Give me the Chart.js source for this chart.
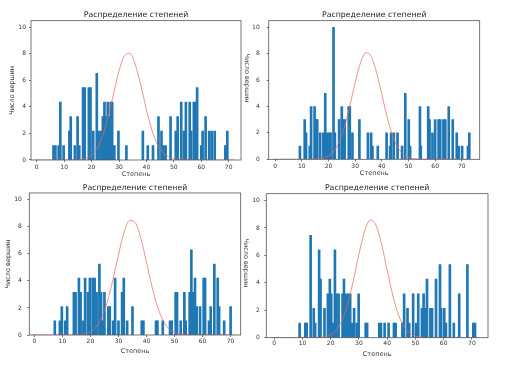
<!DOCTYPE html>
<html>
<head>
<meta charset="utf-8">
<script src="https://cdn.jsdelivr.net/npm/chart.js@4/dist/chart.umd.min.js"></script>
<style>
  body { margin: 0; background: #fff; }
  #wrap { position: relative; width: 507px; height: 366px; overflow: hidden; background: #fff; }
  #wrap canvas { position: absolute; }
  .side { position: absolute; font: 6.5px "DejaVu Sans", sans-serif; color: #444;
          white-space: nowrap; transform: translate(-50%, -50%) rotate(90deg); }
</style>
</head>
<body>
<div id="wrap">
  <canvas id="c1" width="253" height="183" style="left:0;top:0"></canvas>
  <canvas id="c2" width="254" height="183" style="left:253px;top:0"></canvas>
  <canvas id="c3" width="253" height="183" style="left:0;top:183px"></canvas>
  <canvas id="c4" width="254" height="183" style="left:253px;top:183px"></canvas>
  <div class="side" style="left:247px;top:78px">Число вершин</div>
  <div class="side" style="left:245.5px;top:263px">Число вершин</div>
</div>
<script>
const titleText = 'Распределение степеней';
const xLabel = 'Степень';
const yLabel = 'Число вершин';
const xTicks = [0, 10, 20, 30, 40, 50, 60, 70];
const yTicks = [0, 2, 4, 6, 8, 10];

// x of the red curve, shared by all panels
const curveX = [-1, 0, 2, 4, 6, 8, 10, 12, 14, 16, 18, 20, 22, 24, 26, 28, 30, 32, 34, 36,
  38, 40, 42, 44, 46, 48, 50, 52, 54, 56, 58, 60, 62, 64, 66, 68, 70, 72];

// panel 1 (top left)
const deg1 = [6.1, 6.8, 8.0, 8.6, 9.8, 11.9, 12.4, 13.9, 14.9, 15.5, 16.9, 17.5, 19.0, 19.6, 20.6,
  21.9, 22.5, 23.3, 24.1, 24.7, 25.3, 25.9, 26.5, 27.0, 27.5, 28.3, 29.8, 32.7, 38.7, 40.5,
  42.4, 44.4, 45.5, 46.2, 47.0, 48.8, 50.7, 51.4, 52.7, 53.7, 54.4, 55.8, 56.3, 57.3, 57.9,
  58.5, 60.0, 60.5, 61.6, 62.9, 63.8, 64.9, 68.8, 69.5];
const counts1 = [1.09, 1.09, 1.09, 4.36, 1.09, 2.18, 3.27, 1.09, 3.27, 1.09, 5.45, 5.45, 5.45, 5.45, 2.18,
  6.54, 2.18, 2.18, 3.27, 4.36, 3.27, 4.36, 3.27, 4.36, 4.36, 1.09, 2.18, 1.09, 2.18, 1.09,
  1.09, 3.27, 2.18, 1.09, 1.09, 3.27, 2.18, 3.27, 4.36, 2.18, 4.36, 4.36, 2.18, 4.36, 4.36,
  5.45, 1.09, 2.18, 3.27, 2.18, 2.18, 2.18, 1.09, 2.18];
const curve1 = [0, 0, 0, 0, 0, 0, 0, 0, 0, 0.04, 0.13, 0.36, 0.88, 1.82, 3.22, 4.98, 6.7, 7.86, 8.03, 7.15,
  5.58, 3.8, 2.26, 1.18, 0.56, 0.26, 0.12, 0.05, 0.02, 0, 0, 0, 0, 0, 0, 0, 0, 0];

// panel 2 (top right)
const deg2 = [9.3, 11.1, 11.6, 13.0, 13.5, 14.8, 15.3, 15.8, 16.9, 18.1, 18.8, 19.4, 20.3, 20.8, 21.9,
  22.4, 24.0, 25.0, 25.5, 26.1, 27.6, 28.0, 29.0, 31.6, 34.8, 36.0, 36.5, 38.5, 41.8, 43.1,
  43.5, 44.5, 45.9, 47.6, 48.8, 50.1, 50.6, 54.3, 54.6, 57.4, 57.9, 59.0, 60.0, 61.3, 61.9,
  63.1, 63.8, 65.1, 66.6, 68.1, 68.8, 70.1, 72.3, 72.8];
const counts2 = [1, 3, 2, 1, 4, 4, 3, 3, 2, 2, 5, 2, 2, 2, 10,
  2, 3, 4, 3, 3, 4, 4, 2, 3, 2, 2, 1, 1, 2, 1,
  2, 2, 2, 1, 5, 3, 1, 4, 1, 4, 3, 2, 3, 3, 3,
  3, 3, 4, 3, 2, 1, 1, 1, 2];
const curve2 = [0, 0, 0, 0, 0, 0, 0, 0, 0, 0.03, 0.09, 0.25, 0.61, 1.31, 2.46, 4.03, 5.8, 7.3, 8.07, 7.8,
  6.6, 4.91, 3.2, 1.82, 0.91, 0.4, 0.15, 0.05, 0.02, 0, 0, 0, 0, 0, 0, 0, 0, 0];

// panel 3 (bottom left)
const deg3 = [7.3, 9.1, 9.8, 11.0, 11.7, 14.1, 14.7, 15.9, 16.5, 17.5, 18.1, 19.1, 19.8, 20.8, 21.5,
  22.2, 23.2, 23.8, 24.3, 25.0, 26.4, 26.9, 28.1, 28.8, 30.0, 31.3, 31.9, 33.1, 35.0, 38.3,
  38.9, 43.4, 43.9, 45.8, 48.4, 49.0, 50.4, 50.9, 52.2, 53.5, 54.0, 55.4, 56.0, 56.5, 57.3,
  57.9, 59.1, 60.4, 60.9, 62.3, 62.9, 64.2, 65.4, 65.9, 67.7, 70.0];
const counts3 = [1.05, 1.05, 2.1, 1.05, 2.1, 3.15, 3.15, 4.2, 3.15, 1.05, 4.2, 3.15, 4.2, 4.2, 4.2,
  3.15, 5.25, 3.15, 1.05, 3.15, 2.1, 2.1, 1.05, 4.2, 1.05, 3.15, 4.2, 1.05, 2.1, 1.05,
  1.05, 1.05, 1.05, 1.05, 1.05, 1.05, 3.15, 3.15, 1.05, 3.15, 1.05, 3.15, 6.3, 3.15, 4.2,
  2.1, 2.1, 4.2, 4.2, 1.05, 2.1, 5.25, 4.2, 2.1, 1.05, 2.1];
const curve3 = [0, 0, 0, 0, 0, 0, 0, 0, 0, 0.03, 0.085, 0.24, 0.59, 1.29, 2.45, 4.07, 5.93, 7.58, 8.48, 8.31,
  7.14, 5.37, 3.54, 2.05, 1.04, 0.46, 0.18, 0.06, 0.02, 0, 0, 0, 0, 0, 0, 0, 0, 0];

// panel 4 (bottom right)
const deg4 = [9.0, 11.0, 11.5, 12.9, 14.0, 14.5, 15.9, 16.4, 17.8, 19.0, 19.7, 20.2, 20.9, 21.5, 22.0,
  22.8, 24.2, 24.7, 25.3, 26.2, 26.9, 27.6, 28.3, 29.2, 29.9, 32.4, 32.9, 37.2, 37.8, 39.1,
  40.5, 42.4, 43.0, 45.4, 46.0, 47.2, 47.8, 49.2, 50.3, 51.0, 52.3, 52.9, 53.6, 54.1, 55.3,
  55.9, 57.3, 58.7, 59.1, 60.2, 60.8, 62.2, 63.6, 65.5, 68.4, 70.5, 71.1];
const counts4 = [1.07, 1.07, 1.07, 7.47, 2.14, 1.07, 6.4, 4.27, 2.14, 3.2, 4.27, 3.2, 1.07, 6.4, 3.2,
  3.2, 3.2, 4.27, 3.2, 3.2, 3.2, 1.07, 2.14, 1.07, 3.2, 1.07, 1.07, 1.07, 1.07, 1.07,
  1.07, 1.07, 1.07, 1.07, 3.2, 2.14, 1.07, 3.2, 1.07, 3.2, 2.14, 3.2, 2.14, 4.27, 2.14,
  2.14, 4.27, 5.33, 2.14, 2.14, 1.07, 5.33, 1.07, 3.2, 5.33, 1.07, 1.07];
const curve4 = [0, 0, 0, 0, 0, 0, 0, 0, 0, 0.02, 0.07, 0.21, 0.56, 1.26, 2.45, 4.15, 6.09, 7.76, 8.58, 8.22,
  6.83, 4.92, 3.08, 1.67, 0.79, 0.32, 0.11, 0.04, 0.01, 0, 0, 0, 0, 0, 0, 0, 0, 0];

const FONT = '"DejaVu Sans", sans-serif';

// draws the four-sided matplotlib frame round the plot area
const framePlugin = {
  id: 'frame',
  afterDraw(chart) {
    const a = chart.chartArea, ctx = chart.ctx;
    ctx.save();
    ctx.strokeStyle = '#555';
    ctx.lineWidth = 0.8;
    ctx.strokeRect(a.left, a.top, a.right - a.left, a.bottom - a.top);
    ctx.restore();
  }
};

function makePanel(id, degs, counts, curve, p) {
  const ctx = document.getElementById(id).getContext('2d');
  new Chart(ctx, {
    type: 'bar',
    data: {
      datasets: [
        {
          type: 'line',
          data: curveX.map((x, i) => ({ x: x, y: curve[i] })),
          borderColor: 'rgba(240, 100, 100, 0.8)',
          borderWidth: 0.9,
          pointRadius: 0,
          fill: false,
          cubicInterpolationMode: 'monotone'
        },
        {
          type: 'bar',
          data: degs.map((x, i) => ({ x: x, y: counts[i] })),
          backgroundColor: '#1f77b4',
          borderWidth: 0,
          barThickness: 2
        }
      ]
    },
    options: {
      responsive: false,
      animation: false,
      devicePixelRatio: 1,
      layout: { padding: p.pad },
      plugins: {
        legend: { display: false },
        tooltip: { enabled: false },
        title: {
          display: true,
          fullSize: false,
          text: titleText,
          color: '#222',
          font: { family: FONT, size: 7.8, lineHeight: 1.15, weight: 'normal' },
          padding: p.titlePad
        }
      },
      scales: {
        x: {
          type: 'linear',
          min: p.xMin,
          max: p.xMax,
          bounds: 'data',
          offset: false,
          afterBuildTicks: s => { s.ticks = xTicks.map(v => ({ value: v })); },
          afterFit: s => { s.height = p.xH; },
          grid: { drawOnChartArea: false, offset: false, color: '#555', lineWidth: 0.8, tickLength: 2 },
          border: { display: false },
          ticks: { color: '#333', font: { family: FONT, size: 6 }, padding: p.xTickPad, maxRotation: 0, autoSkip: false },
          title: {
            display: true, text: xLabel, color: '#333',
            font: { family: FONT, size: 6.5, lineHeight: 1.2 },
            padding: { top: 0, bottom: p.xTitlePad }
          }
        },
        y: {
          min: 0,
          max: 10.5,
          bounds: 'data',
          afterBuildTicks: s => { s.ticks = yTicks.map(v => ({ value: v })); },
          afterFit: s => { s.width = p.yW; },
          grid: { drawOnChartArea: false, color: '#555', lineWidth: 0.8, tickLength: 2 },
          border: { display: false },
          ticks: { color: '#333', font: { family: FONT, size: 6 }, padding: p.yTickPad },
          title: {
            display: p.yTitle, text: yLabel, color: '#333',
            font: { family: FONT, size: 6.5, lineHeight: 1.2 },
            padding: { top: p.yTitlePad, bottom: 0 }
          }
        }
      }
    },
    plugins: [framePlugin]
  });
}

makePanel('c1', deg1, counts1, curve1, {
  pad: { left: 0, right: 12, top: 0, bottom: 0 }, titlePad: { top: 10, bottom: 1.7 },
  xMin: -2.1, xMax: 74.5, xH: 23, yW: 31, xTickPad: 1.5, yTickPad: 3,
  xTitlePad: 5.1, yTitle: true, yTitlePad: 8.8
});
makePanel('c2', deg2, counts2, curve2, {
  pad: { left: 0, right: 27.3, top: 0, bottom: 0 }, titlePad: { top: 10, bottom: 1.7 },
  xMin: -2.4, xMax: 76.7, xH: 23.7, yW: 15.7, xTickPad: 1.2, yTickPad: 7,
  xTitlePad: 5.8, yTitle: false, yTitlePad: 0
});
makePanel('c3', deg3, counts3, curve3, {
  pad: { left: 0, right: 12.3, top: 0, bottom: 0 }, titlePad: { top: 0, bottom: 1 },
  xMin: -1.8, xMax: 73.6, xH: 31, yW: 29.3, xTickPad: 1, yTickPad: 5.5,
  xTitlePad: 10.8, yTitle: true, yTitlePad: 4.4
});
makePanel('c4', deg4, counts4, curve4, {
  pad: { left: 0, right: 19, top: 0, bottom: 0 }, titlePad: { top: 0, bottom: 1.7 },
  xMin: -2.8, xMax: 75.7, xH: 28.3, yW: 13.3, xTickPad: 0.5, yTickPad: 4.5,
  xTitlePad: 7.4, yTitle: false, yTitlePad: 0
});
</script>
</body>
</html>
